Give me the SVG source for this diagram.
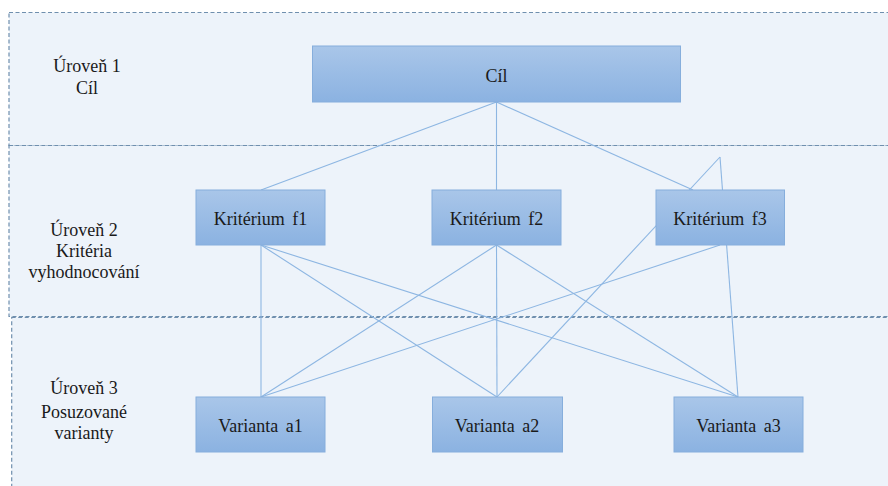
<svg xmlns="http://www.w3.org/2000/svg" width="888" height="486" viewBox="0 0 888 486">
<defs>
<linearGradient id="g" x1="0" y1="0" x2="0" y2="1">
<stop offset="0" stop-color="#A9C6E9"/>
<stop offset="1" stop-color="#8BB2E1"/>
</linearGradient>
<style>
.panel{fill:#EDF3FA;stroke:#6F8FAE;stroke-width:1.2;stroke-dasharray:4 2.5}
.box{fill:url(#g);stroke:#86AEDC;stroke-width:1}
text{font-family:"Liberation Serif","Tinos","Times New Roman",Times,"DejaVu Serif","Noto Serif",serif;font-size:18px;fill:#1a1a1a;text-anchor:middle}
.c line{stroke:#8DB6E2;stroke-width:1.1}
</style>
</defs>
<rect width="888" height="486" fill="#ffffff"/>
<g id="panels">
<rect class="panel" x="9" y="12.5" width="890" height="133"/>
<rect class="panel" x="9" y="145.5" width="890" height="171"/>
<rect class="panel" x="11.7" y="317.3" width="890" height="180"/>
</g>
<g id="level-labels">
<text x="87" y="72">Úroveň 1</text>
<text x="87" y="94">Cíl</text>
<text x="84" y="236">Úroveň 2</text>
<text x="84" y="257">Kritéria</text>
<text x="84" y="278">vyhodnocování</text>
<text x="84" y="394">Úroveň 3</text>
<text x="84" y="418">Posuzované</text>
<text x="84" y="439">varianty</text>
</g>
<g id="connectors" class="c">
<line x1="496.5" y1="102" x2="261" y2="190"/>
<line x1="496.5" y1="102" x2="496.5" y2="190"/>
<line x1="496.5" y1="102" x2="693" y2="190"/>
<line x1="261" y1="245" x2="261" y2="397"/>
<line x1="261" y1="245" x2="497" y2="397"/>
<line x1="261" y1="245" x2="738" y2="397"/>
<line x1="496.5" y1="245" x2="261" y2="397"/>
<line x1="496.5" y1="245" x2="497" y2="397"/>
<line x1="496.5" y1="245" x2="738" y2="397"/>
<line x1="720" y1="245" x2="261" y2="397"/>
<line x1="720" y1="157" x2="497" y2="397"/>
<line x1="720" y1="157" x2="738" y2="397"/>
</g>
<g id="cil">
<rect class="box" x="312.5" y="46" width="368" height="56"/>
<text x="496.5" y="81.5">Cíl</text>
</g>
<g id="f1">
<rect class="box" x="196" y="190" width="129" height="55"/>
<text x="260.5" y="225" word-spacing="3">Kritérium f1</text>
</g>
<g id="f2">
<rect class="box" x="432" y="190" width="129" height="55"/>
<text x="496.5" y="225" word-spacing="3">Kritérium f2</text>
</g>
<g id="f3">
<rect class="box" x="656" y="190" width="128.5" height="55"/>
<text x="720" y="225" word-spacing="3">Kritérium f3</text>
</g>
<g id="a1">
<rect class="box" x="196" y="397" width="129" height="55"/>
<text x="260.5" y="431.5" word-spacing="3">Varianta a1</text>
</g>
<g id="a2">
<rect class="box" x="432.5" y="397" width="130" height="55"/>
<text x="497" y="431.5" word-spacing="3">Varianta a2</text>
</g>
<g id="a3">
<rect class="box" x="674" y="397" width="129" height="55"/>
<text x="738.5" y="431.5" word-spacing="3">Varianta a3</text>
</g>
</svg>
